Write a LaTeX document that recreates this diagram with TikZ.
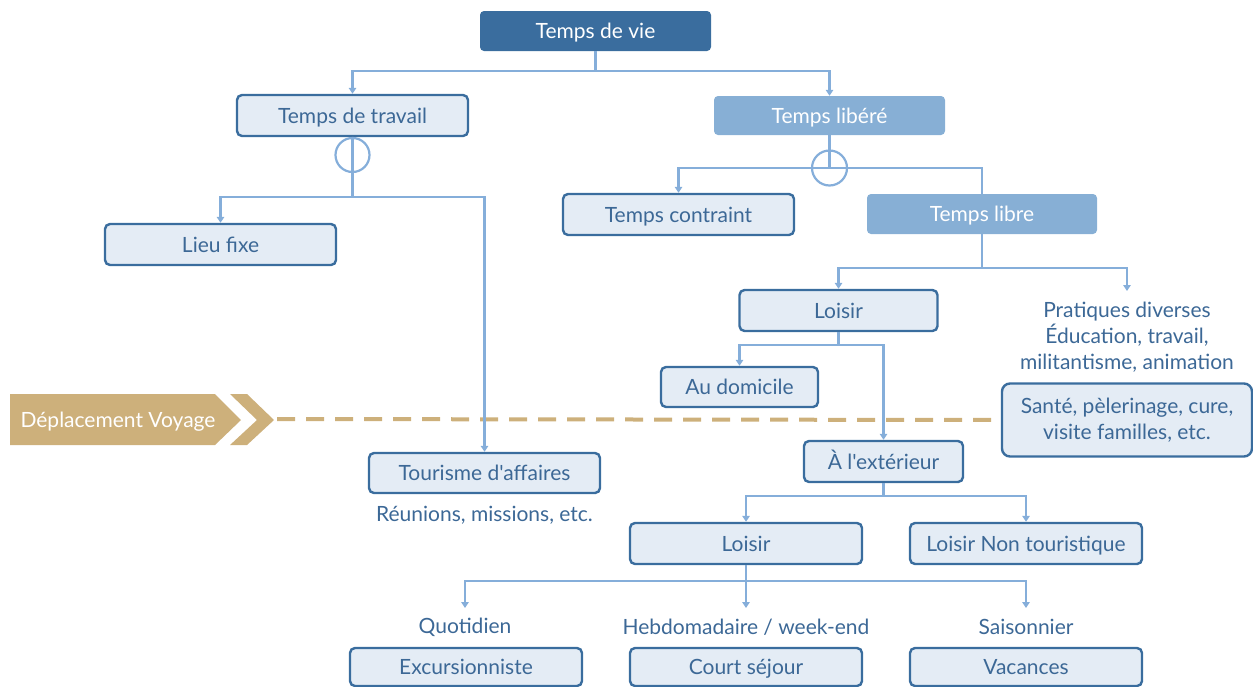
\documentclass[tikz,border=0pt]{standalone}
\usepackage{fontspec}
\setmainfont{Lato}[Ligatures=TeXOff]
\usetikzlibrary{arrows.meta}
\definecolor{dark}{HTML}{3A6D9E}
\definecolor{mid}{HTML}{87AFD5}
\definecolor{lightf}{HTML}{E4ECF5}
\definecolor{linec}{HTML}{85AEDA}
\definecolor{txt}{HTML}{3C6896}
\definecolor{gold}{HTML}{CDB07B}
\begin{document}
\begin{tikzpicture}[x=1pt,y=-1pt,
 every node/.style={font=\fontsize{21}{26}\selectfont, inner sep=0pt},
 oneline/.style={text height=17.5pt, text depth=2pt},
 boxbase/.style={draw=dark, line width=2.4pt, fill=lightf, rounded corners=5pt, text=txt},
 lbox/.style={boxbase, minimum height=40pt, oneline},
 sbox/.style={boxbase, align=center, rounded corners=8pt},
 mbox/.style={fill=mid, rounded corners=4pt, text=white, minimum height=40pt, oneline},
 dbox/.style={fill=dark, rounded corners=4pt, text=white, minimum height=40pt, oneline},
 conn/.style={draw=linec, line width=2.6pt},
 arr/.style={conn, -{Triangle[length=6pt,width=7.5pt]}},
 ftext/.style={text=txt, align=center},
 ring/.style={draw=linec, line width=2.2pt}
]
\useasboundingbox (0,0) rectangle (1253,686);

% travel band
\fill[gold] (10,394) -- (215,394) -- (241,420) -- (215,445) -- (10,445) -- cycle;
\fill[gold] (230,394) -- (247,394) -- (274,420) -- (247,445) -- (230,445) -- (257,420) -- cycle;
\node[text=white, oneline] (depl) at (118,420) {Déplacement Voyage};
\coordinate (dstart) at (277,419);

% boxes
\node[dbox, minimum width=231pt] (vie) at (595.5,31) {Temps de vie};
\node[lbox, minimum width=231pt, minimum height=41pt] (travail) at (352.5,115.5) {Temps de travail};
\node[mbox, minimum width=231pt, minimum height=39pt] (libere) at (829.5,115.5) {Temps libéré};
\node[lbox, minimum width=231pt, minimum height=41pt] (lieu) at (220.5,244.5) {Lieu fixe};
\node[lbox, minimum width=231pt, minimum height=41pt] (contraint) at (678.5,214.5) {Temps contraint};
\node[mbox, minimum width=230pt] (libre) at (982,214) {Temps libre};
\node[lbox, minimum width=198pt, minimum height=41pt] (loisirA) at (838.5,310.5) {Loisir};
\node[lbox, minimum width=157pt] (domicile) at (739.5,387) {Au domicile};
\node[lbox, minimum width=159pt, minimum height=41pt] (exterieur) at (883.5,461.5) {À l'extérieur};
\node[lbox, minimum width=231pt] (affaires) at (484.5,473) {Tourisme d'affaires};
\node[ftext] (reunions) at (484.5,515) {Réunions, missions, etc.};
\node[ftext] (pratiques) at (1127,337) {Pratiques diverses\\Éducation, travail,\\militantisme, animation};
\node[sbox, minimum width=250pt, minimum height=73pt] (sante) at (1127,420) {Santé, pèlerinage, cure,\\visite familles, etc.};
\node[lbox, minimum width=232pt, minimum height=41pt] (loisirB) at (746,543.5) {Loisir};
\node[lbox, minimum width=232pt, minimum height=41pt] (nontour) at (1026,543.5) {Loisir Non touristique};
\node[ftext] (quot) at (465,627) {Quotidien};
\node[ftext] (hebdo) at (746,627) {Hebdomadaire / week-end};
\node[ftext] (saison) at (1026,627) {Saisonnier};
\node[lbox, minimum width=232pt, minimum height=38pt] (excu) at (466,667) {Excursionniste};
\node[lbox, minimum width=232pt, minimum height=38pt] (court) at (746,667) {Court séjour};
\node[lbox, minimum width=232pt, minimum height=38pt] (vac) at (1026,667) {Vacances};

% dashed travel line
\draw[gold, line width=4pt, dash pattern=on 18pt off 11pt] (dstart) -- (sante.west);

% junctions
\coordinate (j1) at (595.5,71);
\coordinate (j2) at (352.5,197);
\coordinate (j3) at (829.5,168);
\coordinate (j4) at (982,268);
\coordinate (j5) at (838.5,345);
\coordinate (j6) at (883.5,496);
\coordinate (j7) at (746,581);
\coordinate (pr) at (1127,291);
\coordinate (q1) at (465,608);
\coordinate (q2) at (746,608);
\coordinate (q3) at (1026,608);

\draw[conn] (vie.south) -- (j1);
\draw[arr] (j1) -| (travail.north);
\draw[arr] (j1) -| (libere.north);

\draw[conn] (travail.south) -- (j2);
\draw[ring] (352.5,155) circle[radius=17pt];
\draw[arr] (j2) -| (lieu.north);
\draw[arr] (j2) -| (affaires.north);

\draw[conn] (libere.south) -- (j3);
\draw[ring] (j3) circle[radius=17.5pt];
\draw[arr] (j3) -| (contraint.north);
\draw[conn] (j3) -| (libre.north);

\draw[conn] (libre.south) -- (j4);
\draw[arr] (j4) -| (loisirA.north);
\draw[arr] (j4) -| (pr);

\draw[conn] (loisirA.south) -- (j5);
\draw[arr] (j5) -| (domicile.north);
\draw[arr] (j5) -| (exterieur.north);

\draw[conn] (exterieur.south) -- (j6);
\draw[arr] (j6) -| (loisirB.north);
\draw[arr] (j6) -| (nontour.north);

\draw[conn] (loisirB.south) -- (j7);
\draw[arr] (j7) -| (q1);
\draw[arr] (j7) -- (q2);
\draw[arr] (j7) -| (q3);
\end{tikzpicture}
\end{document}
